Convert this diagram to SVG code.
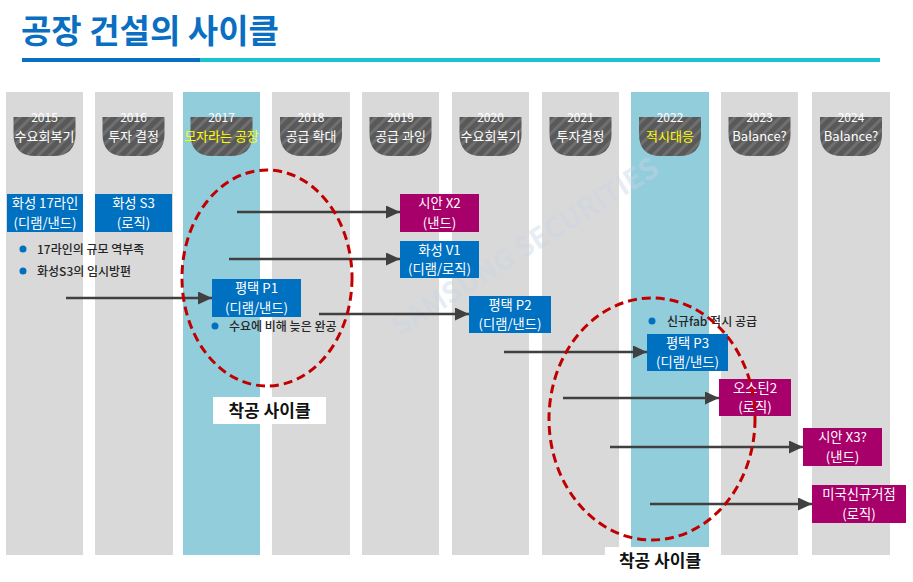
<svg xmlns="http://www.w3.org/2000/svg" width="913" height="582" viewBox="0 0 913 582">
<style>
text{font-family:"Noto Sans CJK KR","Noto Sans",sans-serif}
.col{fill:#d9d9d9}
.colb{fill:#92cddc}
.yr{fill:#fff;font-size:12px;text-anchor:middle}
.lab{fill:#fff;font-size:13px;text-anchor:middle}
.laby{fill:#ffff00;font-size:13px;text-anchor:middle}
.bx{fill:#0070c0}
.bm{fill:#a8006a}
.bt{fill:#fff;font-size:13.3px;text-anchor:middle}
.conn{stroke:#404040;stroke-width:2.6;fill:none;marker-end:url(#ah)}
.dot{fill:#0070c0}
.bul{fill:#262626;font-size:12px;font-weight:500}
.ell{fill:none;stroke:#c00000;stroke-width:3;stroke-dasharray:9 5}
.cyc{fill:#111;font-size:17px;font-weight:700;text-anchor:middle}
</style>
<defs>
<pattern id="st" width="8" height="8" patternUnits="userSpaceOnUse" patternTransform="rotate(45)">
<rect width="8" height="8" fill="#595959"/>
<rect width="3" height="8" fill="#6f6f6f"/>
</pattern>
<path id="bdg" d="M-31,117 H31 V134 Q31,156 9,156 H-9 Q-31,156 -31,134 Z" fill="url(#st)"/>
<marker id="ah" markerUnits="userSpaceOnUse" markerWidth="15" markerHeight="14" refX="14" refY="6.5" orient="auto">
<path d="M0,0 L14,6.5 L0,13 Z" fill="#404040"/>
</marker>
</defs>
<rect width="913" height="582" fill="#fff"/>
<g id="title">
<text x="21" y="43" font-size="33" font-weight="700" fill="#0a6fc2">공장 건설의 사이클</text>
<rect x="22" y="58" width="178" height="4" fill="#0a6fc2"/>
<rect x="200" y="58" width="680" height="4" fill="#18c4d0"/>
</g>
<g id="columns">
<rect class="col" x="6" y="92" width="77" height="463"/>
<rect class="col" x="95" y="92" width="78" height="463"/>
<rect class="colb" x="183" y="92" width="77" height="463"/>
<rect class="col" x="272" y="92" width="78" height="463"/>
<rect class="col" x="362" y="92" width="77" height="463"/>
<rect class="col" x="452" y="92" width="77" height="463"/>
<rect class="col" x="542" y="92" width="77" height="463"/>
<rect class="colb" x="631" y="92" width="78" height="463"/>
<rect class="col" x="721" y="92" width="77" height="463"/>
<rect class="col" x="812" y="92" width="78" height="463"/>
</g>
<text x="530" y="255" transform="rotate(-32 530 255)" font-size="28" font-weight="700" fill="#c9d6e6" fill-opacity="0.45" text-anchor="middle">SAMSUNG SECURITIES</text>
<g id="headers">
<g id="h2015" transform="translate(44.5 0)"><use href="#bdg"/><text class="yr" y="122">2015</text><text class="lab" y="141">수요회복기</text></g>
<g id="h2016" transform="translate(133.5 0)"><use href="#bdg"/><text class="yr" y="122">2016</text><text class="lab" y="141">투자 결정</text></g>
<g id="h2017" transform="translate(221.5 0)"><use href="#bdg"/><text class="yr" y="122">2017</text><text class="laby" y="141">모자라는 공장</text></g>
<g id="h2018" transform="translate(311 0)"><use href="#bdg"/><text class="yr" y="122">2018</text><text class="lab" y="141">공급 확대</text></g>
<g id="h2019" transform="translate(400.5 0)"><use href="#bdg"/><text class="yr" y="122">2019</text><text class="lab" y="141">공급 과잉</text></g>
<g id="h2020" transform="translate(490.5 0)"><use href="#bdg"/><text class="yr" y="122">2020</text><text class="lab" y="141">수요회복기</text></g>
<g id="h2021" transform="translate(580.5 0)"><use href="#bdg"/><text class="yr" y="122">2021</text><text class="lab" y="141">투자결정</text></g>
<g id="h2022" transform="translate(670 0)"><use href="#bdg"/><text class="yr" y="122">2022</text><text class="laby" y="141">적시대응</text></g>
<g id="h2023" transform="translate(759.5 0)"><use href="#bdg"/><text class="yr" y="122">2023</text><text class="lab" y="141">Balance?</text></g>
<g id="h2024" transform="translate(851 0)"><use href="#bdg"/><text class="yr" y="122">2024</text><text class="lab" y="141">Balance?</text></g>
</g>
<g id="connectors">
<line class="conn" x1="237" y1="212" x2="400" y2="212"/>
<line class="conn" x1="229" y1="259" x2="400" y2="259"/>
<line class="conn" x1="66" y1="298" x2="212" y2="298"/>
<line class="conn" x1="319" y1="314" x2="469" y2="314"/>
<line class="conn" x1="504" y1="352" x2="647" y2="352"/>
<line class="conn" x1="563" y1="398" x2="719" y2="398"/>
<line class="conn" x1="610" y1="447" x2="803" y2="447"/>
<line class="conn" x1="650" y1="504" x2="812" y2="504"/>
</g>
<g id="n-hs17"><rect class="bx" x="7" y="194" width="76" height="38"/><text class="bt" x="45" y="208">화성 17라인</text><text class="bt" x="45" y="227.5">(디램/낸드)</text></g>
<g id="n-hss3"><rect class="bx" x="95" y="194" width="77" height="38"/><text class="bt" x="133.5" y="208">화성 S3</text><text class="bt" x="133.5" y="227.5">(로직)</text></g>
<g id="n-x2"><rect class="bm" x="400" y="194" width="79" height="38"/><text class="bt" x="439.5" y="208">시안 X2</text><text class="bt" x="439.5" y="227.5">(낸드)</text></g>
<g id="n-v1"><rect class="bx" x="400" y="241" width="79" height="37"/><text class="bt" x="439.5" y="254.5">화성 V1</text><text class="bt" x="439.5" y="274">(디램/로직)</text></g>
<g id="n-p1"><rect class="bx" x="212" y="279" width="89" height="38"/><text class="bt" x="256.5" y="293">평택 P1</text><text class="bt" x="256.5" y="312.5">(디램/낸드)</text></g>
<g id="n-p2"><rect class="bx" x="469" y="296" width="82" height="37"/><text class="bt" x="510" y="309.5">평택 P2</text><text class="bt" x="510" y="329">(디램/낸드)</text></g>
<g id="n-p3"><rect class="bx" x="647" y="334" width="81" height="37"/><text class="bt" x="687.5" y="347.5">평택 P3</text><text class="bt" x="687.5" y="367">(디램/낸드)</text></g>
<g id="n-austin"><rect class="bm" x="719" y="379" width="72" height="37"/><text class="bt" x="755" y="392.5">오스틴2</text><text class="bt" x="755" y="412">(로직)</text></g>
<g id="n-x3"><rect class="bm" x="803" y="428" width="79" height="38"/><text class="bt" x="842.5" y="442">시안 X3?</text><text class="bt" x="842.5" y="461.5">(낸드)</text></g>
<g id="n-us"><rect class="bm" x="812" y="485" width="94" height="38"/><text class="bt" x="859" y="499">미국신규거점</text><text class="bt" x="859" y="518.5">(로직)</text></g>
<g id="bullets">
<circle class="dot" cx="23" cy="249" r="3.5"/><text class="bul" x="37" y="253.5">17라인의 규모 역부족</text>
<circle class="dot" cx="23" cy="271" r="3.5"/><text class="bul" x="37" y="275.5">화성S3의 임시방편</text>
<circle class="dot" cx="215" cy="326" r="3.5"/><text class="bul" x="229" y="330.5">수요에 비해 늦은 완공</text>
<circle class="dot" cx="652" cy="321" r="3.5"/><text class="bul" x="667" y="325.5">신규fab 적시 공급</text>
</g>
<g id="cycle1">
<ellipse class="ell" cx="267" cy="278" rx="85" ry="108"/>
<rect x="213" y="397" width="113" height="27" fill="#fff"/>
<text class="cyc" x="269.5" y="417">착공 사이클</text>
</g>
<g id="cycle2">
<ellipse class="ell" cx="652" cy="419" rx="103" ry="121"/>
<rect x="605" y="547" width="110" height="30" fill="#fff"/>
<text class="cyc" x="660" y="567">착공 사이클</text>
</g>
</svg>
